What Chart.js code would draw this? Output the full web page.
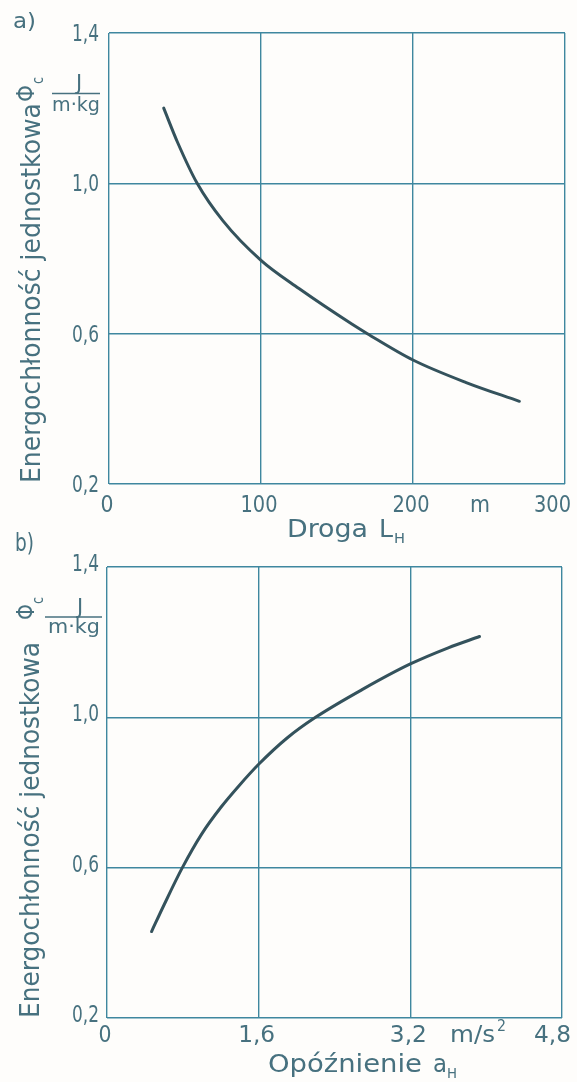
<!DOCTYPE html>
<html><head><meta charset="utf-8">
<script src="https://cdn.jsdelivr.net/npm/chart.js@4/dist/chart.umd.min.js"></script>
<style>
html,body{margin:0;padding:0;background:#fefdfb;}
#wrap{position:relative;width:577px;height:1082px;overflow:hidden;}
canvas{position:absolute;left:0;}
</style></head><body>
<div id="wrap">
<canvas id="cA" width="577" height="560" style="top:0px"></canvas>
<canvas id="cB" width="577" height="557" style="top:525px"></canvas>
</div>
<script>
// ---- data ----
const distanceA = [36, 45, 58, 75, 100, 125, 160, 170, 200, 235, 270];
const energyA   = [1.2, 1.11, 1.0, 0.9, 0.795, 0.72, 0.625, 0.6, 0.53, 0.47, 0.42];
const decelB    = [0.47, 0.6, 0.795, 1.0, 1.2, 1.4, 1.6, 1.9, 2.2, 2.7, 3.2, 3.6, 3.93];
const energyB   = [0.43, 0.50, 0.60, 0.69, 0.76, 0.82, 0.875, 0.945, 1.0, 1.075, 1.142, 1.185, 1.215];

const yTicks = [0.2, 0.6, 1.0, 1.4];
const yTickLabels = ["0,2", "0,6", "1,0", "1,4"];
const xTicksA = [0, 100, 200, 300];
const xTickLabelsA = ["0", "100", "200", "300"];
const xTicksB = [0, 1.6, 3.2, 4.8];
const xTickLabelsB = ["0", "1,6", "3,2", "4,8"];

const yTitle = "Energochłonność jednostkowa";
const xTitleA = "Droga";
const xTitleB = "Opóźnienie";

// ---- style ----
const FONT = '"DejaVu Sans"';
const TEXT = "#47717f";
const GRID = "#3f879f";
const CURVE = "#34525c";

function fitText(ctx, text, x, y, size, targetW, align, color) {
  ctx.save();
  ctx.font = size + 'px ' + FONT;
  ctx.fillStyle = color || TEXT;
  ctx.textBaseline = 'alphabetic';
  ctx.textAlign = 'left';
  const w = ctx.measureText(text).width;
  const sx = targetW ? targetW / w : 1;
  const total = targetW || w;
  const left = align === 'center' ? x - total / 2 : align === 'right' ? x - total : x;
  ctx.translate(left, y);
  ctx.scale(sx, 1);
  ctx.fillText(text, 0, 0);
  ctx.restore();
}
function rotText(ctx, text, px, py, size, targetW, color) {
  ctx.save();
  ctx.translate(px, py);
  ctx.rotate(-Math.PI / 2);
  fitText(ctx, text, 0, 0, size, targetW, 'left', color);
  ctx.restore();
}
function hline(ctx, x1, x2, y) {
  ctx.save(); ctx.strokeStyle = TEXT; ctx.lineWidth = 1.5;
  ctx.beginPath(); ctx.moveTo(x1, y); ctx.lineTo(x2, y); ctx.stroke(); ctx.restore();
}

function makeChart(id, xs, ys, xMax, xTicks, xLabels, pad, deco) {
  const el = document.getElementById(id);
  const pts = xs.map((x, i) => ({ x: x, y: ys[i] }));
  const labelPlugin = {
    id: 'labels_' + id,
    afterDraw(chart) {
      const ctx = chart.ctx;
      const xs_ = chart.scales.x, ys_ = chart.scales.y;
      const ca = chart.chartArea;
      yTicks.forEach((v, i) => {
        const py = ys_.getPixelForValue(v);
        fitText(ctx, yTickLabels[i], 99, py + deco.yDy, 23, 27, 'right');
      });
      xTicks.forEach((v, i) => {
        const px = xs_.getPixelForValue(v);
        const last = i === xTicks.length - 1;
        const w = xLabels[i].length === 1 ? 13 : 37;
        if (last) fitText(ctx, xLabels[i], 571, ca.bottom + deco.xDy, 23, w, 'right');
        else fitText(ctx, xLabels[i], px - 2, ca.bottom + deco.xDy, 23, w, 'center');
      });
      deco.draw(ctx, ca);
    }
  };
  return new Chart(el, {
    type: 'scatter',
    data: { datasets: [{ data: pts, showLine: true, borderColor: CURVE, borderWidth: 3,
      pointRadius: 0, cubicInterpolationMode: 'monotone', borderCapStyle: 'round' }] },
    options: {
      responsive: false, animation: false, devicePixelRatio: 1,
      layout: { padding: pad },
      plugins: { legend: { display: false }, tooltip: { enabled: false } },
      scales: {
        x: { type: 'linear', min: 0, max: xMax,
          afterBuildTicks: s => { s.ticks = xTicks.map(v => ({ value: v })); },
          afterFit: s => { s.height = 0; },
          ticks: { display: false },
          grid: { color: GRID, lineWidth: 1.4, drawTicks: false, tickLength: 0 },
          border: { display: false } },
        y: { type: 'linear', min: 0.2, max: 1.4,
          afterBuildTicks: s => { s.ticks = yTicks.map(v => ({ value: v })); },
          afterFit: s => { s.width = 0; },
          ticks: { display: false },
          grid: { color: GRID, lineWidth: 1.4, drawTicks: false, tickLength: 0 },
          border: { display: false } }
      }
    },
    plugins: [labelPlugin]
  });
}

// chart a) : chart area 109..565 x 33..484 (page coords), canvas 0..560
makeChart('cA', distanceA, energyA, 300, xTicksA, xTickLabelsA,
  { left: 109, right: 12, top: 33, bottom: 76 },
  { yDy: 8, xDy: 28, draw(ctx, ca) {
      const oy = 0;
      fitText(ctx, "a)", 13, 28 - oy, 22, 23, 'left');
      rotText(ctx, yTitle, 40, 483 - oy, 26, 380);
      rotText(ctx, "Φ", 34, 102 - oy, 24, 17);
      rotText(ctx, "c", 43, 84 - oy, 15, 7);
      fitText(ctx, "J", 79, 90 - oy, 21, 0, 'center');
      hline(ctx, 52, 100, 93.5 - oy);
      fitText(ctx, "m·kg", 52, 111 - oy, 19, 48, 'left');
      fitText(ctx, "m", 480, ca.bottom + 28, 23, 20, 'center');
      fitText(ctx, xTitleA, 287, 537 - oy, 24, 81, 'left');
      fitText(ctx, "L", 379, 537 - oy, 24, 14, 'left');
      fitText(ctx, "H", 394, 543 - oy, 14, 11, 'left');
  } });

// chart b) : chart area 107..562 x 567..1018 (page coords), canvas offset 525
makeChart('cB', decelB, energyB, 4.8, xTicksB, xTickLabelsB,
  { left: 107, right: 15, top: 42, bottom: 64 },
  { yDy: 4, xDy: 24, draw(ctx, ca) {
      const oy = 525;
      fitText(ctx, "b)", 15, 551 - oy, 24, 19, 'left');
      rotText(ctx, yTitle, 39, 1018 - oy, 26, 376);
      rotText(ctx, "Φ", 34, 620 - oy, 24, 16);
      rotText(ctx, "c", 43, 604 - oy, 15, 7);
      fitText(ctx, "J", 80, 614 - oy, 21, 0, 'center');
      hline(ctx, 45, 102, 617 - oy);
      fitText(ctx, "m·kg", 48, 633 - oy, 19, 52, 'left');
      fitText(ctx, "m/s", 450, ca.bottom + 24, 23, 45, 'left');
      fitText(ctx, "2", 497, ca.bottom + 13, 15, 9, 'left');
      fitText(ctx, xTitleB, 268, 1072 - oy, 24, 154, 'left');
      fitText(ctx, "a", 433, 1072 - oy, 24, 14, 'left');
      fitText(ctx, "H", 447, 1078 - oy, 14, 10, 'left');
  } });
</script>
</body></html>
